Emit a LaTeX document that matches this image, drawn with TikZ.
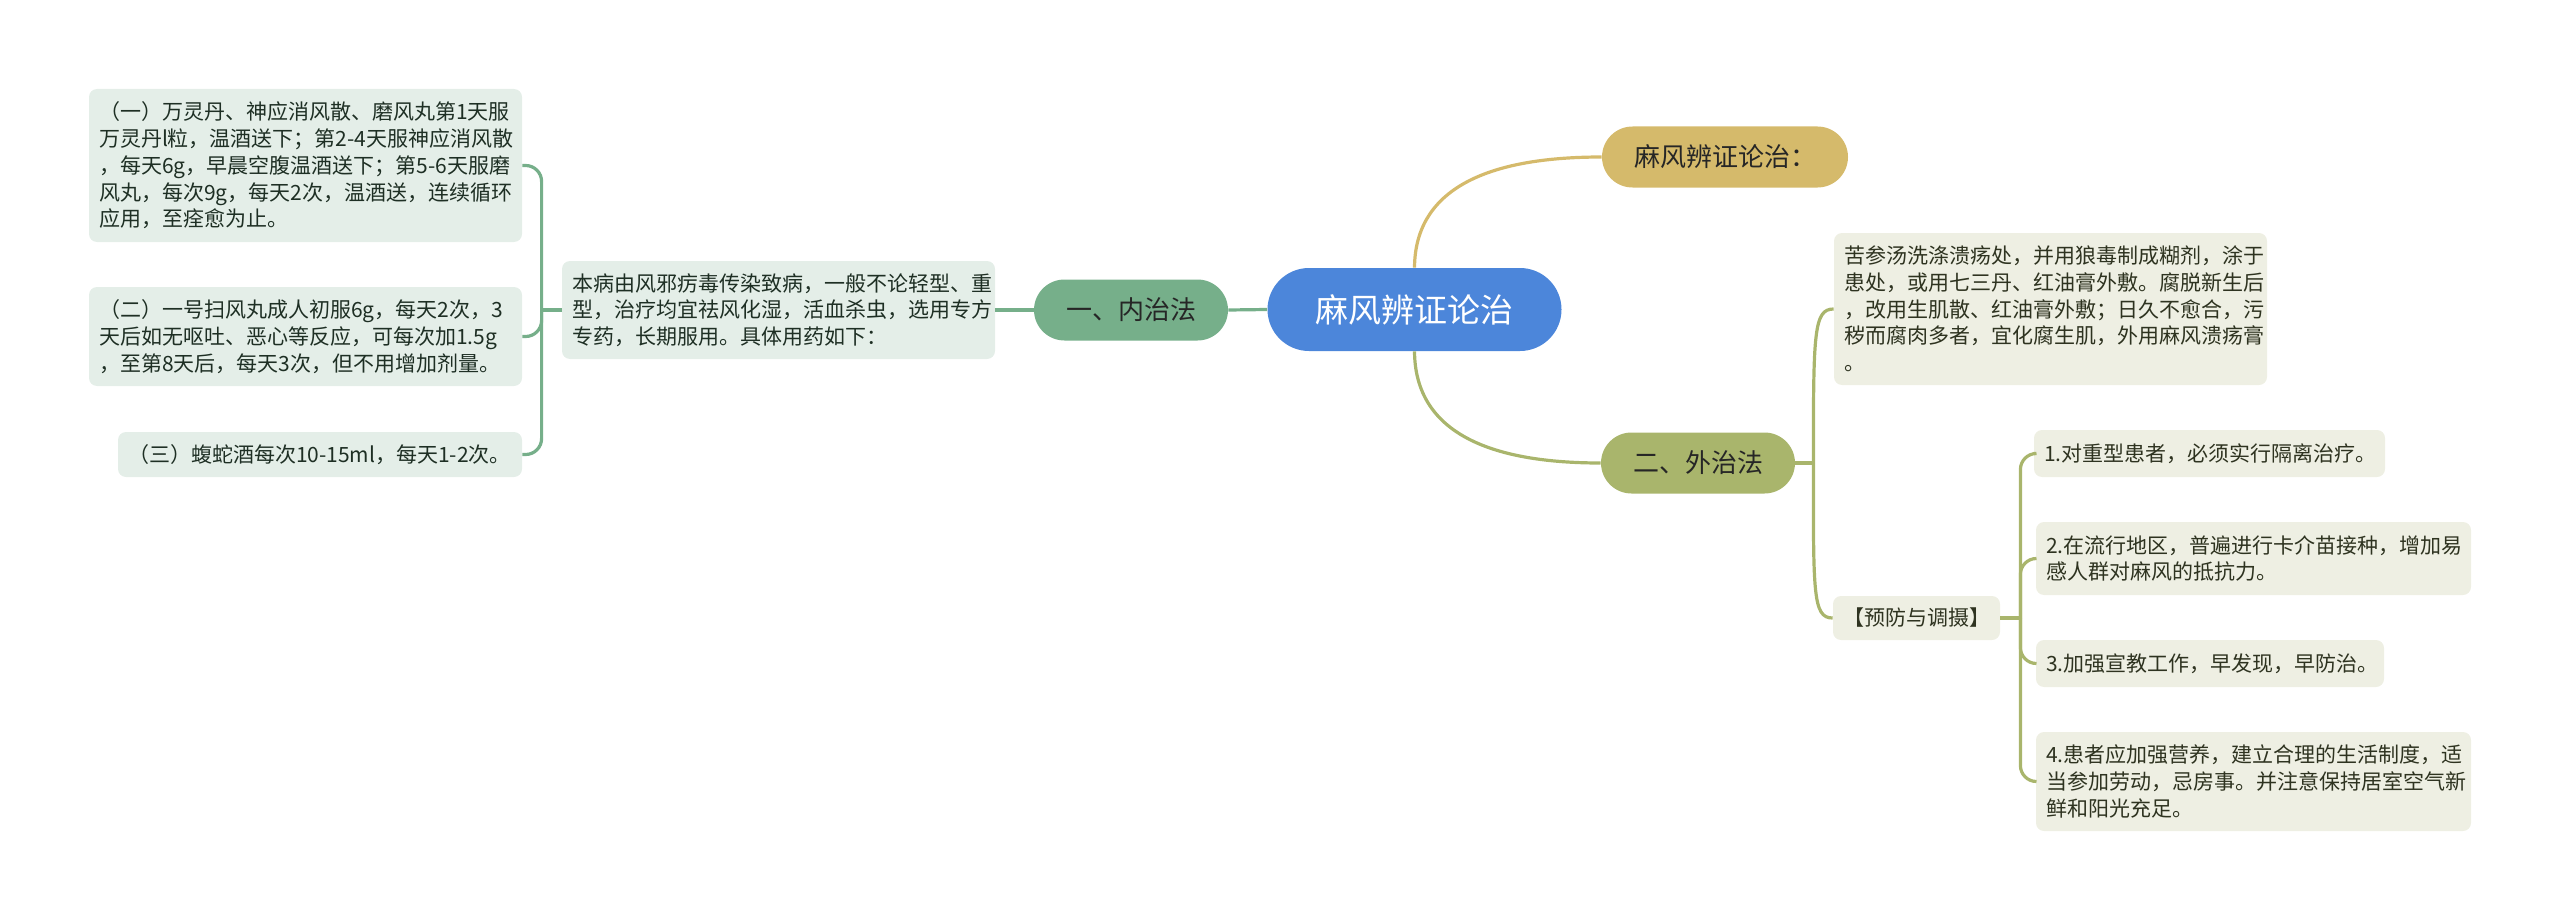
\documentclass[tikz,border=0pt]{standalone}
\usepackage{fontspec}
\setmainfont{Noto Sans CJK SC}
\usetikzlibrary{positioning}
\definecolor{rootblue}{RGB}{76,134,218}
\definecolor{neigreen}{RGB}{118,175,138}
\definecolor{magold}{RGB}{213,186,107}
\definecolor{waiolive}{RGB}{169,181,108}
\definecolor{lfill}{RGB}{228,238,232}
\definecolor{rfill}{RGB}{238,239,227}
\definecolor{ltext}{RGB}{30,47,36}
\definecolor{rtext}{RGB}{46,51,32}

\begin{document}
\begin{tikzpicture}[x=0.5pt,y=-0.5pt,
  rootnode/.style={fill=rootblue,text=white,rounded corners=20.75pt,minimum width=147pt,minimum height=41.5pt,font=\fontsize{16.5pt}{19pt}\selectfont},
  topic/.style={rounded corners=15.25pt,minimum width=97pt,minimum height=30.5pt,text=black!85,font=\fontsize{13pt}{15pt}\selectfont},
  leaf/.style={rounded corners=4pt,inner xsep=5pt,inner ysep=0pt,align=left,font=\fontsize{10.5pt}{13.35pt}\selectfont},
  lleaf/.style={leaf,fill=lfill,text=ltext},
  rleaf/.style={leaf,fill=rfill,text=rtext},
  gline/.style={draw=neigreen,line width=1.6pt},
  yline/.style={draw=magold,line width=1.6pt},
  oline/.style={draw=waiolive,line width=1.6pt}]
\useasboundingbox (0,0) rectangle (2560,920);
% centre and first level
\node[rootnode] (root) at (1414.5,309.5) {麻风辨证论治};
\node[topic,fill=neigreen] (nei) at (1131,310) {一、内治法};
\node[topic,fill=magold,minimum width=123pt] (ma) at (1725,157) {麻风辨证论治：};
\node[topic,fill=waiolive] (wai) at (1698,463) {二、外治法};
% left side
\node[lleaf,text width=206.5pt,minimum height=49pt] (benbing) at (778.5,310) {本病由风邪疠毒传染致病，一般不论轻型、重\\型，治疗均宜祛风化湿，活血杀虫，选用专方\\专药，长期服用。具体用药如下：};
\node[lleaf,text width=206.5pt,minimum height=76.5pt] (c1) at (305.5,165.5) {（一）万灵丹、神应消风散、磨风丸第1天服\\\mbox{万灵丹l粒，温酒送下；第2-4天服神应消风散}\\\mbox{，每天6g，早晨空腹温酒送下；第5-6天服磨}\\风丸，每次9g，每天2次，温酒送，连续循环\\应用，至痊愈为止。};
\node[lleaf,text width=206.5pt,minimum height=49.5pt] (c2) at (305.5,336.5) {（二）一号扫风丸成人初服6g，每天2次，3\\\mbox{天后如无呕吐、恶心等反应，可每次加1.5g}\\，至第8天后，每天3次，但不用增加剂量。};
\node[lleaf,text width=192pt,minimum height=22.5pt] (c3) at (320,454.5) {\mbox{（三）蝮蛇酒每次10-15ml，每天1-2次。}};
% right side
\node[rleaf,text width=206.5pt,minimum height=76pt] (kushen) at (2050.5,309) {苦参汤洗涤溃疡处，并用狼毒制成糊剂，涂于\\患处，或用七三丹、红油膏外敷。腐脱新生后\\，改用生肌散、红油膏外敷；日久不愈合，污\\秽而腐肉多者，宜化腐生肌，外用麻风溃疡膏\\。};
\node[rleaf,align=center,minimum width=81.5pt,minimum height=22pt] (yufang) at (1916.5,618) {【预防与调摄】};
\node[rleaf,text width=165.5pt,minimum height=23.5pt] (r1) at (2209.5,453.5) {1.对重型患者，必须实行隔离治疗。};
\node[rleaf,text width=207.5pt,minimum height=36.5pt] (r2) at (2253.5,558.5) {2.在流行地区，普遍进行卡介苗接种，增加易\\感人群对麻风的抵抗力。};
\node[rleaf,text width=164pt,minimum height=23.5pt] (r3) at (2210,663.5) {3.加强宣教工作，早发现，早防治。};
\node[rleaf,text width=207.5pt,minimum height=49.5pt] (r4) at (2253.5,781.5) {4.患者应加强营养，建立合理的生活制度，适\\当参加劳动，忌房事。并注意保持居室空气新\\鲜和阳光充足。};
% junctions
\coordinate[left=10pt of benbing.west] (lj);
\coordinate[right=9pt of wai.east] (wj);
\coordinate[right=10pt of yufang.east] (yj);
% connectors
\draw[gline] (root.west)--(nei.east);
\draw[gline] (nei.west)--(benbing.east);
\draw[yline] (root.north) .. controls (1415,194) and (1478,157) .. (ma.west);
\draw[oline] (root.south) .. controls (1415,426) and (1478,463) .. (wai.west);
\draw[gline] (benbing.west)--(lj);
\draw[gline,rounded corners=8pt] (lj) |- (c1.east);
\draw[gline,rounded corners=8pt] (lj) |- (c2.east);
\draw[gline,rounded corners=8pt] (lj) |- (c3.east);
\draw[oline] (wai.east)--(wj);
\draw[oline] (wj) .. controls +(0,-130) and +(-20,0) .. (kushen.west);
\draw[oline] (wj) .. controls +(0,130) and +(-20,0) .. (yufang.west);
\draw[oline] (yufang.east)--(yj);
\draw[oline,rounded corners=8pt] (yj) |- (r1.west);
\draw[oline,rounded corners=8pt] (yj) |- (r2.west);
\draw[oline,rounded corners=8pt] (yj) |- (r3.west);
\draw[oline,rounded corners=8pt] (yj) |- (r4.west);
\end{tikzpicture}
\end{document}
